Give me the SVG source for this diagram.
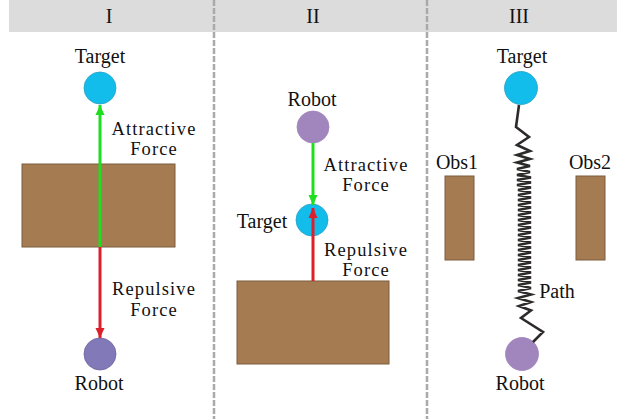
<svg xmlns="http://www.w3.org/2000/svg" width="617" height="419" viewBox="0 0 617 419">
<style>
text{font-family:"Liberation Serif","Times New Roman",serif;font-size:20px;fill:#111;text-anchor:middle}
.lbl{font-size:18.5px;letter-spacing:1.1px}
.target{fill:#12bdeb;stroke:#2a9fc4;stroke-width:0.8}
.robot1{fill:#8179b8;stroke:#6c65a0;stroke-width:0.8}
.robot2{fill:#a185bd;stroke:#a185bd;stroke-width:0.8}
.obs{fill:#a57b52;stroke:#7d5c3c;stroke-width:1}
.div{stroke:#a9a9a9;stroke-width:2.5;stroke-dasharray:6 2;fill:none}
.att{stroke:#1fde1f;stroke-width:3;fill:none}
.rep{stroke:#dc1f2b;stroke-width:3;fill:none}
</style>
<defs>
<marker id="hg" markerUnits="userSpaceOnUse" markerWidth="10" markerHeight="10" viewBox="0 0 10 10" refX="10" refY="5" orient="auto"><path d="M0,0.5 L10,5 L0,9.5 Z" fill="#1fde1f"/></marker>
<marker id="hr" markerUnits="userSpaceOnUse" markerWidth="10" markerHeight="10" viewBox="0 0 10 10" refX="10" refY="5" orient="auto"><path d="M0,0.5 L10,5 L0,9.5 Z" fill="#dc1f2b"/></marker>
</defs>
<rect x="0" y="0" width="617" height="419" fill="#fff"/>
<g id="header">
<rect x="9" y="0" width="608" height="32" fill="#dcdcdc"/>
<text x="109" y="23">I</text>
<text x="313" y="23">II</text>
<text x="519" y="23">III</text>
</g>
<g id="dividers">
<line class="div" x1="214" y1="0" x2="214" y2="419"/>
<line class="div" x1="427" y1="0" x2="427" y2="419"/>
</g>
<!-- Panel I -->
<g id="obstacle-1"><rect class="obs" x="22" y="164" width="153" height="83"/></g>
<g id="target-1"><circle class="target" cx="100" cy="88" r="16"/><text x="100" y="63">Target</text></g>
<g id="robot-1"><circle class="robot1" cx="100" cy="354" r="16"/><text x="99" y="390">Robot</text></g>
<!-- Panel II -->
<g id="obstacle-2"><rect class="obs" x="237" y="281" width="152" height="83"/></g>
<g id="robot-2"><circle class="robot2" cx="313" cy="127" r="16"/><text x="312" y="106">Robot</text></g>
<g id="target-2"><circle class="target" cx="312" cy="220" r="16"/><text x="262" y="228">Target</text></g>
<!-- Panel III -->
<g id="target-3"><circle class="target" cx="521" cy="88" r="16.5"/><text x="522" y="63">Target</text></g>
<g id="robot-3"><circle class="robot2" cx="522" cy="354" r="16.5"/><text x="520" y="390">Robot</text></g>
<g id="obs1"><rect class="obs" x="445" y="176" width="29" height="84"/><text x="457" y="169">Obs1</text></g>
<g id="obs2"><rect class="obs" x="576" y="176" width="29" height="84"/><text x="590" y="169">Obs2</text></g>
<g id="connectors">
<line class="att" x1="100" y1="247" x2="100" y2="105" marker-end="url(#hg)"/>
<line class="rep" x1="100" y1="247" x2="100" y2="338" marker-end="url(#hr)"/>
<line class="att" x1="313" y1="143" x2="313" y2="205" marker-end="url(#hg)"/>
<line class="rep" x1="313" y1="281" x2="313" y2="208" marker-end="url(#hr)"/>
<path d="M519,105 L516,127 L529,137 L517,145 L530,151 L517,155 L530,159 L517,162.5 L530,166 L517,169 L530,172 L517,175 L531,177.5 L517,180 L531,182.5 L517,185 L531,187.5 L518,190 L531,192.5 L518,195 L531,197.5 L518,200 L531,202.5 L518,205 L531,207.5 L518,210 L531,212.5 L518,215 L531,217.5 L518,220 L531,222.5 L518,225 L531,227.5 L518,230 L531,232.5 L518,235 L531,237.5 L518,240 L531,242.5 L518,245 L531,247.5 L518,250 L531,252.5 L518,255 L531,257.5 L518,260 L531,262.5 L518,265 L531,267.5 L518,270 L531,272.5 L518,275 L531,277.5 L518,280 L531,282.5 L518,285 L531,288 L518,291 L531,294.5 L518,298 L531,302 L519,306 L531,310.5 L521,318 L543,332 L533,342" fill="none" stroke="#2e2a2a" stroke-width="2.6" stroke-linejoin="miter"/>
</g>
<g id="labels">
<text class="lbl" x="154" y="134.5">Attractive</text>
<text class="lbl" x="154" y="155">Force</text>
<text class="lbl" x="154" y="295">Repulsive</text>
<text class="lbl" x="154" y="315.5">Force</text>
<text class="lbl" x="366" y="170.5">Attractive</text>
<text class="lbl" x="366" y="191">Force</text>
<text class="lbl" x="366" y="255.5">Repulsive</text>
<text class="lbl" x="366" y="276">Force</text>
<text x="557" y="298">Path</text>
</g>
</svg>
